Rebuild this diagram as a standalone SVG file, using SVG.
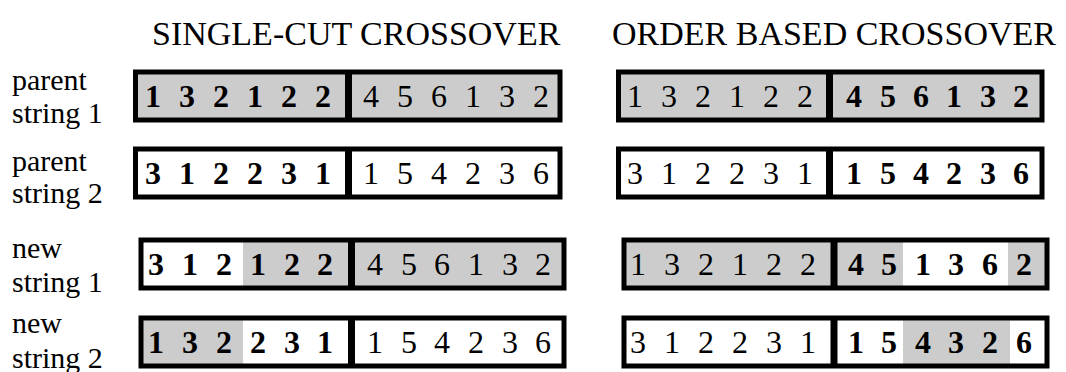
<svg xmlns="http://www.w3.org/2000/svg" width="1066" height="372" viewBox="0 0 1066 372" font-family="'Liberation Serif', 'DejaVu Serif', serif">
<style>
text{font-family:'Liberation Serif', 'DejaVu Serif', serif;fill:#000}
.title{font-size:34px}
.lbl{font-size:30px}
.d{font-size:32px;text-anchor:middle}
.b{font-weight:bold}
.g{fill:#cccccc}
.w{fill:#ffffff}
.frame{fill:none;stroke:#000;stroke-width:5}
.div{stroke:#000;stroke-width:7}
</style>
<rect width="1066" height="372" fill="#fff"/>
<g id="titles">
<text class="title" x="152" y="45">SINGLE-CUT CROSSOVER</text>
<text class="title" x="612" y="45">ORDER BASED CROSSOVER</text>
</g>
<g id="labels">
<text class="lbl" x="12" y="90">parent</text>
<text class="lbl" x="12" y="123">string 1</text>
<text class="lbl" x="12" y="171">parent</text>
<text class="lbl" x="12" y="203">string 2</text>
<text class="lbl" x="12" y="258">new</text>
<text class="lbl" x="12" y="292">string 1</text>
<text class="lbl" x="12" y="333">new</text>
<text class="lbl" x="12" y="368">string 2</text>
</g>
<g id="sc-parent1">
<rect class="g" x="135.5" y="72" width="424.5" height="48"/>
<rect class="frame" x="135.5" y="72" width="424.5" height="48"/>
<line class="div" x1="348.5" y1="72" x2="348.5" y2="120"/>
<text class="d b" x="153 170 187 204 221 238 255 272 289 306 323" y="107">1 3 2 1 2 2</text>
<text class="d" x="371 388 405 422 439 456 473 490 507 524 541" y="107">4 5 6 1 3 2</text>
</g>
<g id="ob-parent1">
<rect class="g" x="618.5" y="72" width="423.5" height="48"/>
<rect class="frame" x="618.5" y="72" width="423.5" height="48"/>
<line class="div" x1="829.5" y1="72" x2="829.5" y2="120"/>
<text class="d" x="635 652 669 686 703 720 737 754 771 788 805" y="107">1 3 2 1 2 2</text>
<text class="d b" x="854 871 888 904.5 921 937.5 954 971 988 1004.5 1021" y="107">4 5 6 1 3 2</text>
</g>
<g id="sc-parent2">
<rect class="w" x="135.5" y="149" width="424.5" height="48"/>
<rect class="frame" x="135.5" y="149" width="424.5" height="48"/>
<line class="div" x1="348.5" y1="149" x2="348.5" y2="197"/>
<text class="d b" x="153 170 187 204 221 238 255 272 289 306 323" y="184">3 1 2 2 3 1</text>
<text class="d" x="371 388 405 422 439 456 473 490 507 524 541" y="184">1 5 4 2 3 6</text>
</g>
<g id="ob-parent2">
<rect class="w" x="618.5" y="149" width="423.5" height="48"/>
<rect class="frame" x="618.5" y="149" width="423.5" height="48"/>
<line class="div" x1="829.5" y1="149" x2="829.5" y2="197"/>
<text class="d" x="635 652 669 686 703 720 737 754 771 788 805" y="184">3 1 2 2 3 1</text>
<text class="d b" x="854 871 888 904.5 921 937.5 954 971 988 1004.5 1021" y="184">1 5 4 2 3 6</text>
</g>
<g id="sc-new1">
<rect class="w" x="141" y="240" width="423" height="48"/>
<rect class="g" x="243" y="240" width="321" height="48"/>
<rect class="frame" x="141" y="240" width="423" height="48"/>
<line class="div" x1="351.5" y1="240" x2="351.5" y2="288"/>
<text class="d b" x="156 173 190 207 224 241 258 275 292 308.5 325" y="275">3 1 2 1 2 2</text>
<text class="d" x="375 392 409 425.5 442 459 476 493 510 526.5 543" y="275">4 5 6 1 3 2</text>
</g>
<g id="ob-new1">
<rect class="g" x="624" y="240" width="423" height="48"/>
<rect class="w" x="903" y="240" width="105" height="48"/>
<rect class="frame" x="624" y="240" width="423" height="48"/>
<line class="div" x1="834" y1="240" x2="834" y2="288"/>
<text class="d" x="638 655 672 689 706 723 740 757 774 791 808" y="275">1 3 2 1 2 2</text>
<text class="d b" x="856 872.5 889 906 923 939.5 956 973 990 1007 1024" y="275">4 5 1 3 6 2</text>
</g>
<g id="sc-new2">
<rect class="w" x="141" y="318" width="423" height="48"/>
<rect class="g" x="141" y="318" width="102" height="48"/>
<rect class="frame" x="141" y="318" width="423" height="48"/>
<line class="div" x1="351.5" y1="318" x2="351.5" y2="366"/>
<text class="d b" x="156 173 190 207 224 241 258 275 292 308.5 325" y="353">1 3 2 2 3 1</text>
<text class="d" x="375 392 409 425.5 442 459 476 493 510 526.5 543" y="353">1 5 4 2 3 6</text>
</g>
<g id="ob-new2">
<rect class="w" x="624" y="318" width="423" height="48"/>
<rect class="g" x="903" y="318" width="107" height="48"/>
<rect class="frame" x="624" y="318" width="423" height="48"/>
<line class="div" x1="834" y1="318" x2="834" y2="366"/>
<text class="d" x="638 655 672 689 706 723 740 757 774 791 808" y="353">3 1 2 2 3 1</text>
<text class="d b" x="856 872.5 889 906 923 939.5 956 973 990 1007 1024" y="353">1 5 4 3 2 6</text>
</g>
<g id="connectors"></g>
</svg>
